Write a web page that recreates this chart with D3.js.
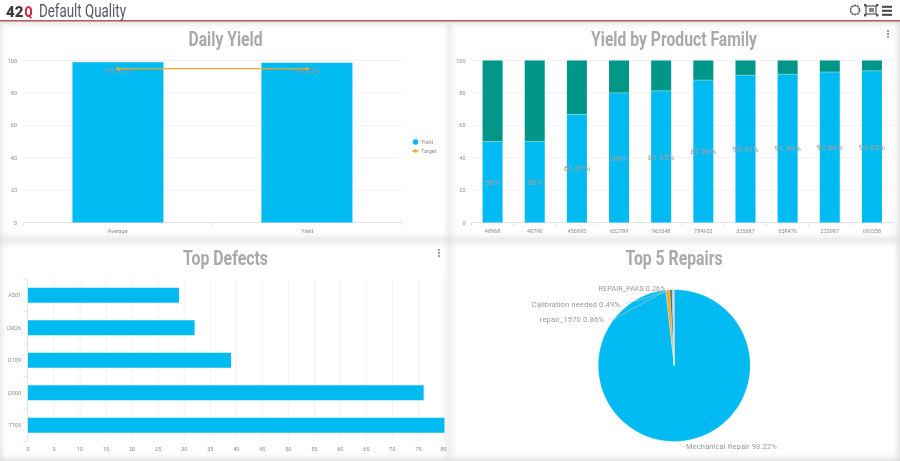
<!DOCTYPE html>
<html><head><meta charset="utf-8">
<script src="https://cdn.jsdelivr.net/npm/d3@7"></script>
<style>
html,body{margin:0;padding:0;background:#fff;overflow:hidden}
svg{display:block}
text{font-family:Roboto,sans-serif}
</style></head><body>
<svg id="c" width="900" height="461"></svg>
<script>
const dailyCats=["Average","Yield"];
const dailyYield=[98.93,98.63];
const dailyLabels=["98.93%","98.83%"];
const dailyTarget=[95,95];
const famCats=["48968","48796","456895","652789","963548","784953","325687","658476","235987","693258"];
const famYield=[50,50,66.67,80,81.25,87.88,90.91,91.49,92.86,93.62];
const famLabels=["50%","50%","66.67%","80%","81.25%","87.88%","90.91%","91.49%","92.86%","93.62%"];
const defectCats=["A501","CM26","D109","D900","T103"];
const defectVals=[29,32,39,76,80];
const repairNames=["Mechanical Repair","repair_1570","Calibration needed","REPAIR_PAKS","Other"];
const repairVals=[98.22,0.86,0.49,0.26,0.17];
const yTicks=[0,20,40,60,80,100];
const xTicks=d3.range(0,81,5);

const BLUE="#00bbf2",TEAL="#009688",ORANGE="#f5a623",GRID="#f1f2f5",AXIS="#dfe3f2";
const svg=d3.select("#c");
const defs=svg.append("defs");
const sh=defs.append("filter").attr("id","sh").attr("x","-5%").attr("y","-5%").attr("width","110%").attr("height","110%");
sh.append("feGaussianBlur").attr("stdDeviation",3);
const soft=defs.append("filter").attr("id","soft").attr("x","-10%").attr("y","-30%").attr("width","120%").attr("height","160%");
soft.append("feGaussianBlur").attr("stdDeviation",0.45);

svg.append("rect").attr("width",900).attr("height",461).attr("fill","#dcdcdc");
const panels=[[1,23,447,215],[451,23,447,215],[1,242,447,217],[451,242,447,217]];
panels.forEach(p=>{
  svg.append("rect").attr("x",p[0]).attr("y",p[1]).attr("width",p[2]).attr("height",p[3]).attr("fill","#fff").attr("filter","url(#sh)");
});
// header
svg.append("rect").attr("width",900).attr("height",20).attr("fill","#fff");
svg.append("rect").attr("y",20).attr("width",900).attr("height",1.5).attr("fill","#b9565a");
svg.append("text").attr("x",6).attr("y",17).attr("font-size",15).attr("font-weight",900).attr("fill","#3b3b3b").attr("filter","url(#soft)").text("42");
svg.append("text").attr("x",24.5).attr("y",17).attr("font-size",15).attr("font-weight",900).attr("fill","#d9263a").attr("textLength",8).attr("lengthAdjust","spacingAndGlyphs").attr("filter","url(#soft)").text("Q");
svg.append("text").attr("x",39).attr("y",16.5).attr("font-size",18).attr("fill","#555a63").attr("textLength",87).attr("lengthAdjust","spacingAndGlyphs").attr("filter","url(#soft)").text("Default Quality");
// header icons
svg.append("circle").attr("cx",855).attr("cy",10).attr("r",4.5).attr("fill","none").attr("stroke","#555").attr("stroke-width",1.6).attr("stroke-dasharray","2.2 .6");
svg.append("rect").attr("x",866).attr("y",6).attr("width",10).attr("height",8).attr("fill","none").attr("stroke","#555").attr("stroke-width",1.2);
svg.append("rect").attr("x",869).attr("y",8).attr("width",5).attr("height",4).attr("fill","#888");
[[865,5],[877,5],[865,15],[877,15]].forEach(d=>svg.append("rect").attr("x",d[0]-1).attr("y",d[1]-1).attr("width",2.4).attr("height",2.4).attr("fill","#555"));
[5.8,9.8,13.8].forEach(y=>svg.append("rect").attr("x",882).attr("y",y).attr("width",10).attr("height",2).attr("fill","#444"));
// kebabs
[[888,32],[439,251]].forEach(k=>[0,3,6].forEach(d=>svg.append("circle").attr("cx",k[0]).attr("cy",k[1]-1+d).attr("r",1.1).attr("fill","#888")));

function title(t,cx,y,w){
  svg.append("text").attr("x",cx).attr("y",y).attr("text-anchor","middle").attr("font-size",21).attr("font-weight",700).attr("fill","#a9a9a9").attr("textLength",w).attr("lengthAdjust","spacingAndGlyphs").attr("filter","url(#soft)").text(t);
}
title("Daily Yield",225.5,46,74);
title("Yield by Product Family",674,46,166);
title("Top Defects",225.5,265,85);
title("Top 5 Repairs",674,265,97);

function small(g,t,x,y,anchor,size){
  return g.append("text").attr("x",x).attr("y",y).attr("text-anchor",anchor||"middle").attr("font-size",size||5.5).attr("fill","#8c8c8c").attr("filter","url(#soft)").text(t);
}
function vChart(x0,x1,cats){
  const x=d3.scaleBand().domain(cats).range([x0,x1]);
  const y=d3.scaleLinear().domain([0,100]).range([222.5,60.5]);
  const g=svg.append("g");
  yTicks.forEach(t=>{
    if(t>0) g.append("line").attr("x1",x0).attr("x2",x1).attr("y1",y(t)).attr("y2",y(t)).attr("stroke",GRID);
    small(g,t,x0-6,y(t)+2,"end");
  });
  g.append("line").attr("x1",x0).attr("x2",x1).attr("y1",222.5).attr("y2",222.5).attr("stroke",AXIS).attr("stroke-width",1.2);
  x.domain().forEach(c=>{
    g.append("line").attr("x1",x(c)).attr("x2",x(c)).attr("y1",222.5).attr("y2",226).attr("stroke",AXIS);
    small(g,c,x(c)+x.bandwidth()/2,232.5);
  });
  g.append("line").attr("x1",x1).attr("x2",x1).attr("y1",222.5).attr("y2",226).attr("stroke",AXIS);
  return {x,y,g};
}
// Daily
{
  const {x,y,g}=vChart(23,402,dailyCats);
  const bw=91;
  dailyCats.forEach((c,i)=>{
    const cx=x(c)+x.bandwidth()/2;
    g.append("rect").attr("x",cx-bw/2+(i?-.3:.2)).attr("width",bw).attr("y",y(dailyYield[i])).attr("height",y(0)-y(dailyYield[i])).attr("fill",BLUE);
    small(g,dailyLabels[i],cx,72.5,"middle",8).attr("fill","#8f9ca0").attr("font-weight",500);
  });
  const line=d3.line().x(c=>x(c)+x.bandwidth()/2).y((c,i)=>y(dailyTarget[i]));
  g.append("path").attr("d",line(dailyCats)).attr("fill","none").attr("stroke",ORANGE).attr("stroke-width",1.1);
  dailyCats.forEach((c,i)=>g.append("circle").attr("cx",x(c)+x.bandwidth()/2).attr("cy",y(dailyTarget[i])).attr("r",1.7).attr("fill",ORANGE));
  svg.append("circle").attr("cx",415.5).attr("cy",142).attr("r",2.8).attr("fill",BLUE);
  svg.append("line").attr("x1",412).attr("x2",419).attr("y1",151).attr("y2",151).attr("stroke",ORANGE).attr("stroke-width",1.1);
  svg.append("circle").attr("cx",415.5).attr("cy",151).attr("r",1.7).attr("fill",ORANGE);
  small(svg,"Yield",421,144,"start",5.5);
  small(svg,"Target",421,153,"start",5.5);
}
// Family
{
  const {x,y,g}=vChart(471.5,893,famCats);
  const bw=20;
  famCats.forEach((c,i)=>{
    const cx=x(c)+x.bandwidth()/2;
    g.append("rect").attr("x",cx-bw/2).attr("width",bw).attr("y",y(famYield[i])).attr("height",y(0)-y(famYield[i])).attr("fill",BLUE);
    g.append("rect").attr("x",cx-bw/2).attr("width",bw).attr("y",y(100)).attr("height",y(famYield[i])-y(100)).attr("fill",TEAL);
    g.append("line").attr("x1",cx-bw/2).attr("x2",cx+bw/2).attr("y1",y(famYield[i])).attr("y2",y(famYield[i])).attr("stroke","#7fdbe0").attr("stroke-width",.7);
    small(g,famLabels[i],cx,y(famYield[i]/2)+3,"middle",8).attr("fill","#9aa3a5").attr("font-weight",500);
  });
}
// Defects
{
  const x=d3.scaleLinear().domain([0,80]).range([28,444.5]);
  const y=d3.scaleBand().domain(defectCats).range([279,441.5]);
  const g=svg.append("g");
  xTicks.forEach(t=>{
    if(t>0) g.append("line").attr("x1",x(t)).attr("x2",x(t)).attr("y1",279).attr("y2",441.5).attr("stroke",GRID);
    small(g,t,x(t)-(t==80?1:0),450.5);
  });
  g.append("line").attr("x1",27.5).attr("x2",27.5).attr("y1",279).attr("y2",441.5).attr("stroke",AXIS).attr("stroke-width",1.2);
  defectCats.forEach((c,i)=>{
    const by=y(c)+y.bandwidth()/2-7.5;
    g.append("line").attr("x1",23).attr("x2",27.5).attr("y1",y(c)).attr("y2",y(c)).attr("stroke",AXIS);
    g.append("rect").attr("x",x(0)).attr("y",by).attr("width",x(defectVals[i])-x(0)).attr("height",15).attr("fill",BLUE);
    small(g,c,21,y(c)+y.bandwidth()/2+1.8,"end");
  });
  g.append("line").attr("x1",23).attr("x2",27.5).attr("y1",441.5).attr("y2",441.5).attr("stroke",AXIS);
}
// Pie
{
  const cx=674.2,cy=365.5,r=76;
  const pieCols=[BLUE,ORANGE,"#3c6e5a","#8fb8d8","#b49bd0"];
  const pie=d3.pie().sort(null).value(d=>d)(repairVals);
  const arc=d3.arc().innerRadius(0).outerRadius(r);
  const g=svg.append("g").attr("transform",`translate(${cx},${cy})`);
  g.selectAll("path").data(pie).enter().append("path").attr("d",arc).attr("fill",(d,i)=>pieCols[i]).attr("stroke","#fff").attr("stroke-width",.3);
  const lab=[[686,449,"start","Mechanical Repair 98.22%",7.6],[604,322,"end","repair_1570 0.86%",7.7],[620,306.5,"end","Calibration needed 0.49%",7.7],[665.5,291,"end","REPAIR_PAKS 0.26%",7.2]];
  lab.forEach(l=>small(svg,l[3],l[0],l[1],l[2],l[4]).attr("fill","#999").attr("letter-spacing",.08));
  const leaders=[[[678,441.5],[682,446.5],[685,446.5]],[[668,290],[630,310],[615,319],[608,319]],[[669,290],[640,300],[625,303.5]],[[670,289],[667,288.5]],[[673,289],[672,286.5]]];
  leaders.forEach(p=>svg.append("path").attr("d",d3.line()(p)).attr("fill","none").attr("stroke","#ccc").attr("stroke-width",.6));
}
</script></body></html>
